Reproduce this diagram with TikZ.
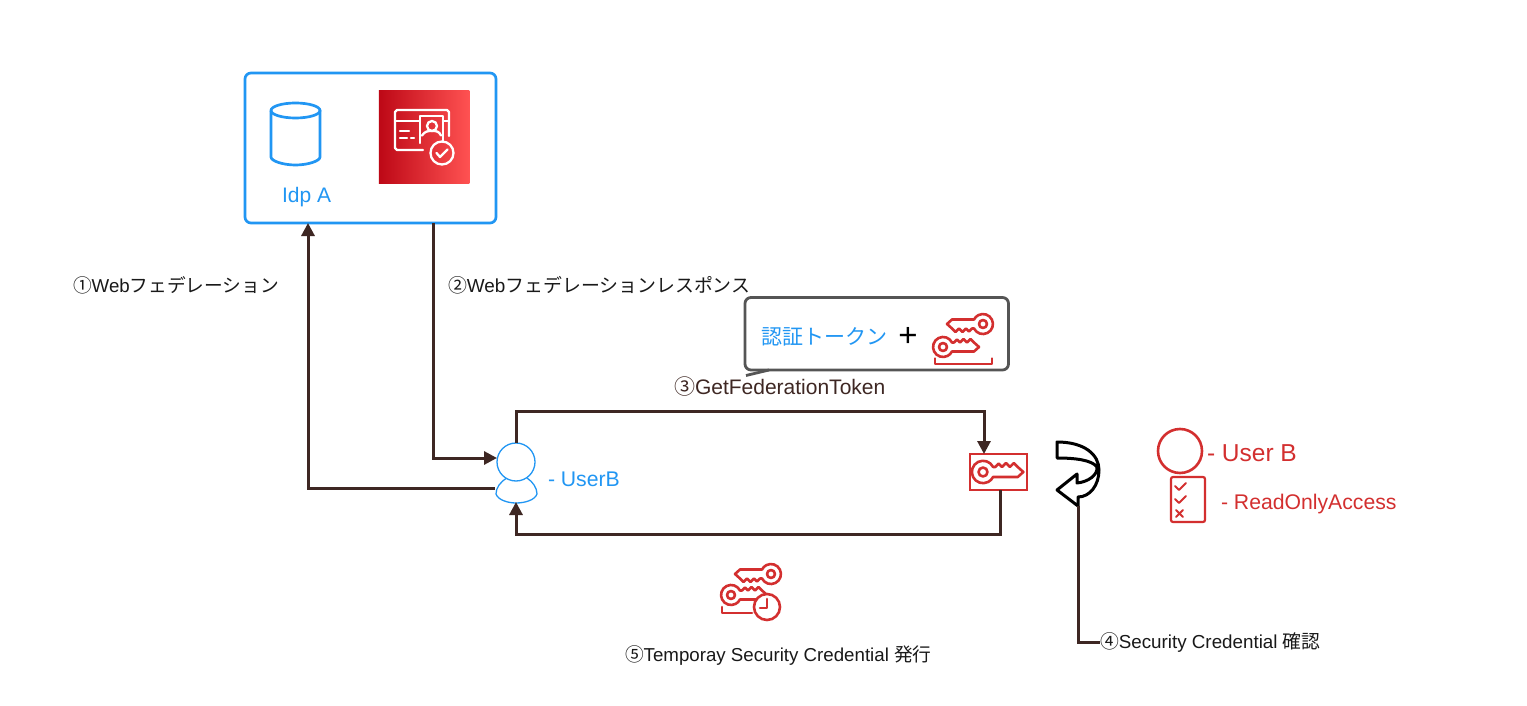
\documentclass[tikz,border=0pt]{standalone}
\usepackage{fontspec}
\setmainfont{Liberation Sans}
\newfontfamily\jp{Noto Sans CJK JP}
\usetikzlibrary{arrows.meta,calc}
\definecolor{linkc}{HTML}{3E2723}
\definecolor{bluec}{HTML}{2196F3}
\definecolor{redc}{HTML}{D32F2F}
\definecolor{grayc}{HTML}{555555}
\definecolor{gradl}{HTML}{BD0816}
\definecolor{gradr}{HTML}{FF5252}
\newcommand{\fs}[1]{\fontsize{#1}{#1}\selectfont}
\tikzset{
  x=1pt,y=-1pt,
  link/.style={draw=linkc,line width=3pt},
  linkarrow/.style={link,-{Triangle[length=13pt,width=13pt]}},
  txt/.style={anchor=base west,inner sep=0pt,outer sep=0pt},
  redline/.style={draw=redc,line width=2.6pt,line join=round,line cap=round},
  whiteline/.style={draw=white,line width=2.3pt,line join=round,line cap=round},
  keyshape/.pic={
    \draw[redline] (9,-4.5) arc[start angle=-26.6,end angle=-333.4,radius=10]
      -- (31,4.5) -- (36,0) -- (31,-4.5) -- (27.5,-8) -- (24,-4.5) -- (20.5,-8) -- (17,-4.5) -- (14,-7.5) -- (11,-4.5) -- cycle;
    \draw[redline] (0,0) circle[radius=4];
  }
}
\begin{document}
\begin{tikzpicture}
\useasboundingbox (0,0) rectangle (1527,706);
\fill[white] (0,0) rectangle (1527,706);

% Idp box
\node[draw=bluec,line width=2.7pt,rounded corners=6pt,minimum width=251pt,minimum height=150pt,inner sep=0pt,outer sep=0pt,fill=white] (idp) at (370.5,148) {};
\draw[bluec,line width=2.7pt] (271,110.5) arc[start angle=180,end angle=540,x radius=24.5,y radius=7.5];
\draw[bluec,line width=2.7pt] (271,110.5) -- (271,157) .. controls (271,161) and (283,165) .. (295.5,165) .. controls (308,165) and (320,161) .. (320,157) -- (320,110.5);
\node[txt,text=bluec] (idplabel) at (282,202) {\fs{21}Idp A};

% red service square
\node[left color=gradl,right color=gradr,draw=none,minimum width=90.5pt,minimum height=93.5pt,inner sep=0pt] (svc) at (424.2,137.2) {};
\draw[whiteline] (423,150) -- (397,150) -- (395,148) -- (395,112) -- (397,110) -- (447,110) -- (449,112) -- (449,136);
\draw[whiteline] (395,121) -- (420,121) (443,121) -- (449,121);
\draw[whiteline] (420,143) -- (420,116) -- (443,116) -- (443,142);
\draw[whiteline] (432,126) circle[radius=5];
\draw[whiteline] (422,135.5) .. controls (425,131) and (428,131) .. (432,131) .. controls (436,131) and (439,131) .. (441,135.5);
\draw[whiteline] (442,153) circle[radius=11.5];
\draw[whiteline] (436.5,153) -- (440,157) -- (447.5,149.5);
\draw[whiteline] (400,131) -- (409,131) (400,138) -- (407,138) (411,138) -- (414,138);

% user B (blue)
\node[minimum width=41pt,minimum height=60pt,inner sep=0pt,outer sep=0pt] (user) at (516.5,473) {};
\coordinate (userin) at (497,458);
\coordinate (userout) at (495,488);
\coordinate (userup) at (516,443);
\coordinate (userdown) at (516,502);
\draw[bluec,line width=1.3pt,fill=white] (507,478) .. controls (500,482) and (496,488) .. (496,494) .. controls (498,500) and (508,503) .. (516,503) .. controls (525,503) and (535,500) .. (537,494) .. controls (537,488) and (533,482) .. (527,478);
\draw[bluec,line width=1.3pt,fill=white] (516,462) circle[radius=19];
\node[txt,text=bluec] (userlabel) at (548,486) {\fs{21.2}- UserB};

% callout
\node[minimum width=264pt,minimum height=73pt,inner sep=0pt] (callout) at (877,333.5) {};
\draw[draw=grayc,line width=2.8pt,line join=round,fill=white,rounded corners=6pt]
  (769,370) -- (1008.5,370) -- (1008.5,297.5) -- (745,297.5) -- (745,370) -- (769,370);
\draw[draw=grayc,line width=2.8pt,line join=round] (769,370) -- (746,375.5);
\node[txt,text=bluec] (token) at (761,344) {\fs{21}\jp 認証トークン};
\node[anchor=center,inner sep=0pt] (plus) at (908,337) {\fs{33}+};
\pic[rotate=180] at (983,324) {keyshape};
\pic at (943,347) {keyshape};
\draw[redline] (935,358.5) -- (935,364) -- (992,364) -- (992,358.5);

% key box
\node[draw=redc,line width=2.8pt,minimum width=57pt,minimum height=36pt,inner sep=0pt] (keybox) at (998.5,472) {};
\pic[scale=1.12] at (983,472) {keyshape};
\coordinate (keyin) at (984,454);
\coordinate (keyout) at (1000,490);

% turning arrow
\draw[black,line width=3pt,fill=white,line join=round]
  (1057,442) .. controls (1085,442) and (1099,455) .. (1099,470) .. controls (1099,485) and (1090,497) .. (1078,497)
  -- (1078,506) -- (1057,490) -- (1077,474) -- (1077,483) .. controls (1088,482) and (1098,475) .. (1097,467)
  .. controls (1092,460) and (1075,458) .. (1057,458) -- cycle;
\coordinate (turn) at (1078,506);

% user B (red)
\node[draw=redc,line width=2.6pt,circle,minimum size=44pt,inner sep=0pt] (redu) at (1180,451) {};
\node[txt,text=redc] (redulabel) at (1207,461) {\fs{24.5}- User B};
\node[draw=redc,line width=2.2pt,rounded corners=2pt,minimum width=34pt,minimum height=45pt,inner sep=0pt] (policy) at (1188,499.5) {};
\draw[redline,line width=1.8pt] (1175,486) -- (1179,490) -- (1186,483);
\draw[redline,line width=1.8pt] (1175,499) -- (1179,503) -- (1186,496);
\draw[redline,line width=1.8pt] (1176,510) -- (1183,517) (1183,510) -- (1176,517);
\node[txt,text=redc] (policylabel) at (1221,509) {\fs{21.2}- ReadOnlyAccess};

% temporary credential icon
\pic[rotate=180] at (771,574) {keyshape};
\pic at (731,595) {keyshape};
\draw[redline] (722,607) -- (722,613) -- (752,613);
\draw[redline,fill=white] (767,607) circle[radius=13];
\draw[redline] (767,599) -- (767,608) -- (760,608);

% labels
\node[txt,text=black!90] (l1) at (73,292) {\fs{18.7}{\jp ①}Web{\jp フェデレーション}};
\node[txt,text=black!90] (l2) at (448,292) {\fs{18.9}{\jp ②}Web{\jp フェデレーションレスポンス}};
\node[txt,text=linkc] (l3) at (674,394) {\fs{21}{\jp ③}GetFederationToken};
\node[txt,text=black!90] (l4) at (1100,648) {\fs{18.8}{\jp ④}Security Credential {\jp 確認}};
\node[txt,text=black!90] (l5) at (625,661) {\fs{18.7}{\jp ⑤}Temporay Security Credential {\jp 発行}};

% connectors
\draw[linkarrow] (userout) -| (idp.south -| 308,0);
\draw[linkarrow] (idp.south -| 433,0) |- (userin);
\draw[linkarrow] (userup) |- (984,411) -- (keyin);
\draw[linkarrow] (keyout) |- (516,534) -- (userdown);
\draw[link] (turn) |- (l4.west |- 0,642);
\end{tikzpicture}
\end{document}
